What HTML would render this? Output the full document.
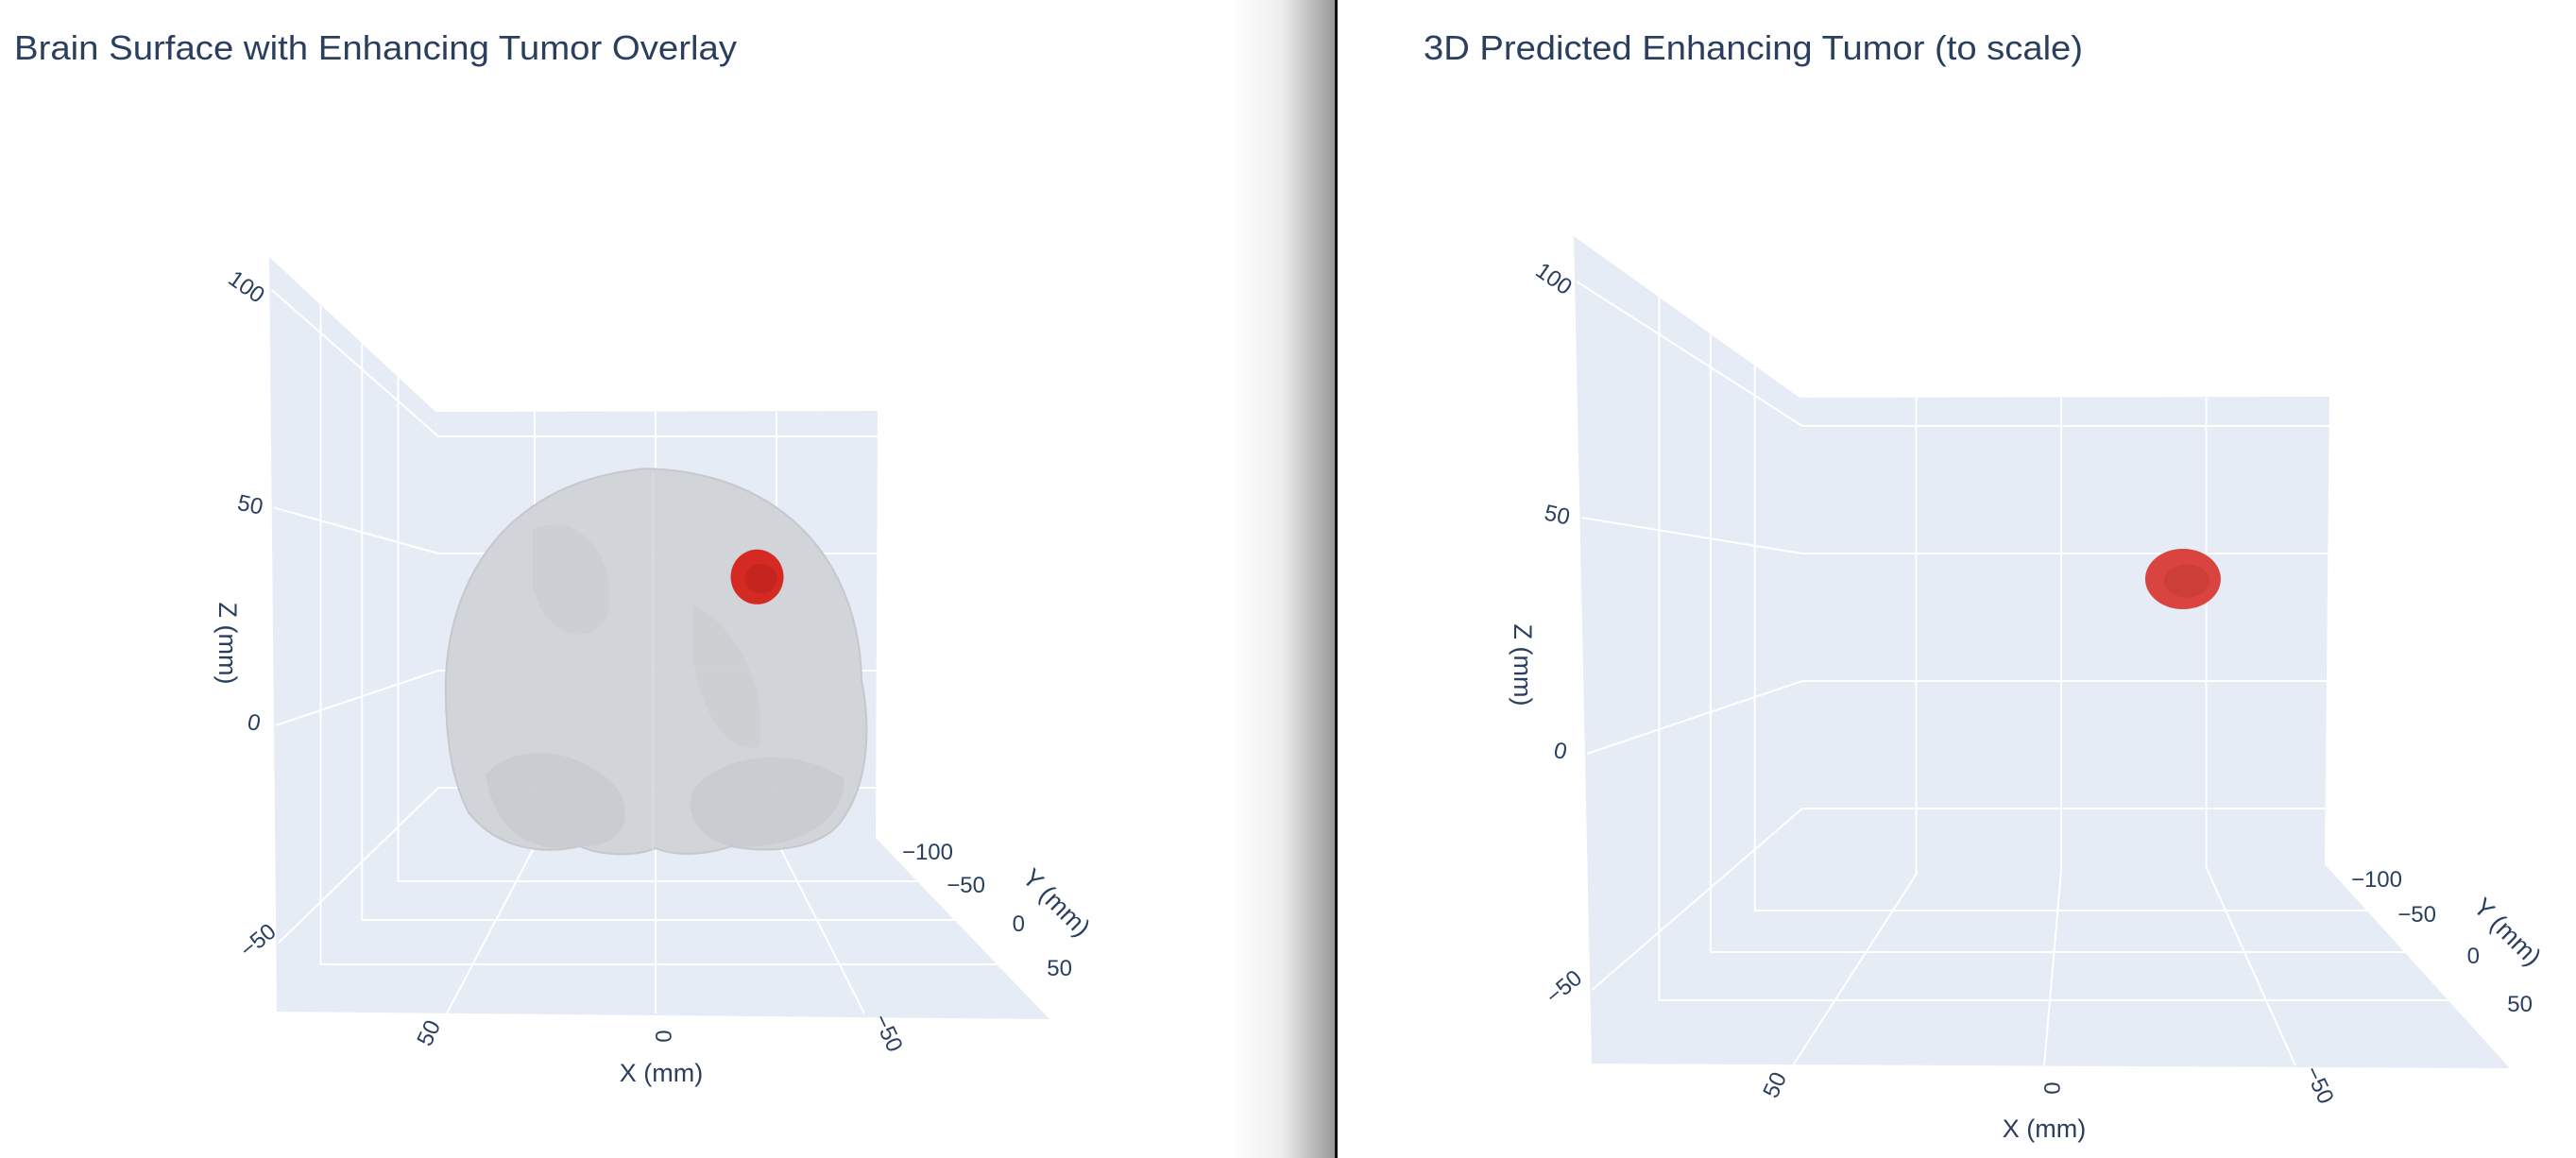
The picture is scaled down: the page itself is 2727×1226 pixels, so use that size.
<!DOCTYPE html>
<html><head><meta charset="utf-8">
<style>
html,body{margin:0;padding:0;background:#fff;}
#wrap{position:relative;width:2727px;height:1226px;overflow:hidden;}
svg{position:absolute;left:0;top:0;}
text{font-family:"Liberation Sans","DejaVu Sans",sans-serif;fill:#2a3f5f;}
</style></head>
<body>
<div id="wrap">
<svg id="svg" width="2727" height="1226" viewBox="0 0 2727 1226">
<defs>
<linearGradient id="shadow" x1="0" x2="1" y1="0" y2="0">
<stop offset="0" stop-color="#ffffff"/>
<stop offset="0.5" stop-color="#eeeeee"/>
<stop offset="1" stop-color="#999999"/>
</linearGradient>
</defs>
<rect x="1300" y="0" width="113" height="1226" fill="url(#shadow)"/>
<rect x="1413" y="0" width="3" height="1226" fill="#111"/>
</svg>
</div>
<script>
// ---- chart data ----
const zTicks = [100, 50, 0, -50];
const xTicks = [50, 0, -50];
const yTicks = [-100, -50, 0, 50];
const tumorCenter = [-42, 40]; // x (mm), z (mm)
const brainCenter = [0, 4];    // x (mm), z (mm)
const panelTitles = ["Brain Surface with Enhancing Tumor Overlay", "3D Predicted Enhancing Tumor (to scale)"];

const NS = "http://www.w3.org/2000/svg";
const svg = document.getElementById("svg");
function mk(tag, attrs, parent) {
  const e = document.createElementNS(NS, tag);
  for (const k in attrs) e.setAttribute(k, attrs[k]);
  (parent || svg).appendChild(e);
  return e;
}
function lerp(a, b, t) { return a + (b - a) * t; }
function onEdge(p, q, y) { const t = (y - p[1]) / (q[1] - p[1]); return [lerp(p[0], q[0], t), y]; }

const panels = [
  { title: [15, 63, 765], wallTL: [285, 272], backTL: [461, 436], backTR: [929, 435], backBR: [927, 887], backBL: [453, 899], wallBL: [293, 1071], floorFR: [1111, 1079],
    zBack: { y0: 710, k: 2.48 }, zLab: { y0: 765, k: 4.614, x0: 269, kx: -0.08 },
    xBack: { x0: 694, k: 2.56 }, xFront: { x0: 694, k: 4.42 }, xLabY: 1097, xTitle: [700, 1145],
    yLab: { y0: 901, a: 32, b: 3, x0: 975, ax: 30, bx: 4 }, yTitle: [1112, 962], zTitle: [232, 681],
    tumorR: [28, 29], brain: true },
  { title: [1507, 63, 698], wallTL: [1666, 250], backTL: [1905, 421], backTR: [2466, 420], backBR: [2461, 915], backBL: [1895, 929], wallBL: [1685, 1126], floorFR: [2657, 1131],
    zBack: { y0: 721, k: 2.7 }, zLab: { y0: 795, k: 5.0, x0: 1652, kx: -0.07 },
    xBack: { x0: 2182, k: 3.07 }, xFront: { x0: 2164, k: 5.32 }, xLabY: 1152, xTitle: [2164, 1204],
    yLab: { y0: 930, a: 33.5, b: 3.5, x0: 2509, ax: 31, bx: 5 }, yTitle: [2648, 993], zTitle: [1603, 704],
    tumorR: [40, 32], brain: false }
];

panels.forEach((P, pi) => {
  const g = mk("g", {});
  
  
  const zY = z => P.zBack.y0 - z * P.zBack.k;
  const xX = x => P.xBack.x0 - x * P.xBack.k;
  const xF = x => P.xFront.x0 - x * P.xFront.k;
  const zLabY = z => P.zLab.y0 - z * P.zLab.k;
  const zLabX = z => P.zLab.x0 + z * P.zLab.kx;
  const yU = v => (v + 100) / 50;
  const yLabY = v => P.yLab.y0 + P.yLab.a * yU(v) + P.yLab.b * yU(v) * yU(v);
  const yLabX = v => P.yLab.x0 + P.yLab.ax * yU(v) + P.yLab.bx * yU(v) * yU(v);
  const pts = a => a.map(p => p.join(",")).join(" ");

  const t = mk("text", { x: P.title[0], y: P.title[1], "font-size": 36, textLength: P.title[2], lengthAdjust: "spacingAndGlyphs" }, g);
  t.textContent = panelTitles[pi];
  
  

  const lw = mk("polygon", { points: pts([P.wallTL, P.backTL, P.backBL, P.wallBL]), fill: "#e5ecf6" }, g);
  
  
  const bw = mk("polygon", { points: pts([P.backTL, P.backTR, P.backBR, P.backBL]), fill: "#e5ecf6" }, g);
  
  
  const fl = mk("polygon", { points: pts([P.backBL, P.backBR, P.floorFR, P.wallBL]), fill: "#e5ecf6" }, g);
  
  

  const grid = mk("g", { stroke: "#ffffff", "stroke-width": 2, fill: "none" }, g);
  
  

  zTicks.forEach(z => {
    const y = zY(z), ly = zLabY(z), lx = zLabX(z);
    const sx = onEdge(P.wallTL, P.wallBL, ly + 3)[0];
    const l = mk("polyline", { points: pts([[sx + 2, ly + 3], [P.backTL[0] + 3, y], [P.backTR[0], y]]) }, grid);
    
    
    const rot = z === 100 ? 35 : (z === -50 ? -40 : 12);
    const tx = mk("text", { x: lx, y: ly + 8, "font-size": 24, "text-anchor": "middle", transform: `rotate(${rot} ${lx} ${ly})` }, g);
    tx.textContent = z < 0 ? "\u2212" + Math.abs(z) : String(z);
    
    
  });

  xTicks.forEach(x => {
    const bx = xX(x), by = P.backBL[1] - (bx - P.backBL[0]) * (P.backBL[1] - P.backBR[1]) / (P.backBR[0] - P.backBL[0]);
    const fx = xF(x);
    const l = mk("polyline", { points: pts([[bx, P.backTL[1]], [bx, by], [fx, P.wallBL[1] + 2]]) }, grid);
    
    
    const rot = x === 0 ? 90 : (x > 0 ? -65 : 65);
    const ax = fx + (x > 0 ? -12 : (x < 0 ? 18 : 0));
    const tx = mk("text", { x: ax, y: P.xLabY, "font-size": 24, "text-anchor": "middle", transform: `rotate(${rot} ${ax} ${P.xLabY})` }, g);
    tx.textContent = x < 0 ? "\u2212" + Math.abs(x) : String(x);
    
    
  });

  yTicks.forEach(v => {
    const ly = yLabY(v), lx = yLabX(v);
    if (v > -100) {
      const gy = ly - 3;
      const a = onEdge(P.backBL, P.wallBL, gy), b = onEdge(P.backBR, P.floorFR, gy);
      const ty = lerp(P.wallTL[1], P.backTL[1], (a[0] - P.wallTL[0]) / (P.backTL[0] - P.wallTL[0]));
      const l = mk("polyline", { points: pts([[a[0], ty], a, b]) }, grid);
      
      
    }
    const tx = mk("text", { x: lx + 34, y: ly + 9, "font-size": 24, "text-anchor": "end" }, g);
    tx.textContent = v < 0 ? "\u2212" + Math.abs(v) : String(v);
    
    
  });

  const xt = mk("text", { x: P.xTitle[0], y: P.xTitle[1], "font-size": 27, "text-anchor": "middle" }, g);
  xt.textContent = "X (mm)";
  
  
  const zt = mk("text", { x: P.zTitle[0], y: P.zTitle[1], "font-size": 27, "text-anchor": "middle", transform: `rotate(90 ${P.zTitle[0]} ${P.zTitle[1]})` }, g);
  zt.textContent = "Z (mm)";
  
  
  const yt = mk("text", { x: P.yTitle[0], y: P.yTitle[1], "font-size": 27, "text-anchor": "middle", transform: `rotate(45 ${P.yTitle[0]} ${P.yTitle[1]})` }, g);
  yt.textContent = "Y (mm)";
  
  

  if (P.brain) {
    const cx = xX(brainCenter[0]), cy = zY(brainCenter[1]);
    const bg = mk("g", { transform: `translate(${cx} ${cy})` }, g);
    
    
    mk("path", { d: "M-222,40 C-226,-70 -170,-190 -10,-204 C140,-200 216,-100 218,20 C228,70 226,130 196,170 C176,196 130,205 80,196 C50,206 20,206 0,198 C-25,208 -60,205 -80,196 C-125,206 -170,196 -198,160 C-216,125 -221,85 -222,40 Z", fill: "#d0d2d6", "fill-opacity": 0.93, stroke: "#c6c8cc", "stroke-width": 2 }, bg);
    mk("path", { d: "M-180,120 C-150,85 -80,90 -40,135 C-20,170 -40,198 -80,196 C-125,205 -170,185 -180,120 Z", fill: "#c8cace", "fill-opacity": 0.75 }, bg);
    mk("path", { d: "M40,135 C80,90 160,95 200,125 C200,170 150,200 80,196 C45,188 30,162 40,135 Z", fill: "#c8cace", "fill-opacity": 0.75 }, bg);
    mk("path", { d: "M-130,-140 C-80,-160 -40,-110 -50,-50 C-70,-10 -120,-30 -130,-80 Z", fill: "#c7c9cd", "fill-opacity": 0.5 }, bg);
    mk("path", { d: "M40,-60 C80,-40 120,20 110,90 C80,100 50,60 40,0 Z", fill: "#c7c9cd", "fill-opacity": 0.45 }, bg);
    mk("line", { x1: -3, y1: -200, x2: -3, y2: 200, stroke: "#e0e2e6", "stroke-width": 2, "stroke-opacity": 0.5 }, bg);
  }

  const tx0 = xX(tumorCenter[0]), ty0 = zY(tumorCenter[1]);
  const tg = mk("g", {}, g);
  
  
  mk("ellipse", { cx: tx0, cy: ty0, rx: P.tumorR[0], ry: P.tumorR[1], fill: P.brain ? "#d42a22" : "#d9443f" }, tg);
  mk("ellipse", { cx: tx0 + 4, cy: ty0 + 2, rx: P.tumorR[0] * 0.6, ry: P.tumorR[1] * 0.55, fill: P.brain ? "#c0221c" : "#c73c38", "fill-opacity": 0.7 }, tg);
});
</script>
</body></html>
